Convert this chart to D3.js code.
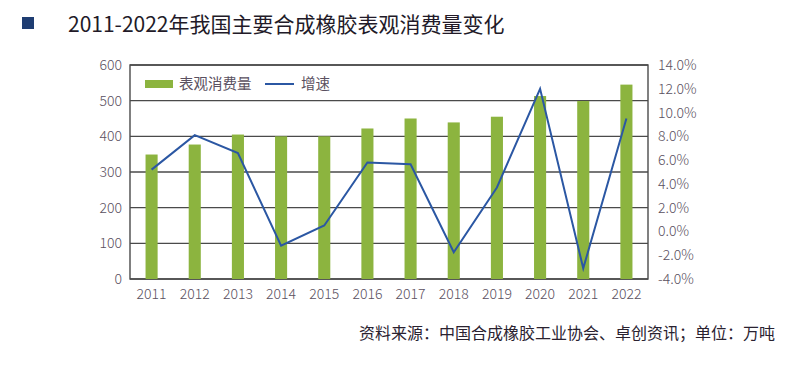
<!DOCTYPE html>
<html><head><meta charset="utf-8">
<script src="https://cdn.jsdelivr.net/npm/d3@7/dist/d3.min.js"></script>
<style>
body{margin:0;background:#fff;}
svg{display:block;font-family:"Noto Sans CJK SC","Noto Sans",sans-serif;}
</style></head>
<body>
<svg id="c" width="802" height="368"></svg>
<script>
const years = ["2011","2012","2013","2014","2015","2016","2017","2018","2019","2020","2021","2022"];
const consumption = [349, 377, 405, 400, 400, 422, 450, 439, 455, 513, 499, 545];
const growth = [5.2, 8.1, 6.6, -1.2, 0.5, 5.8, 5.65, -1.75, 3.7, 12.0, -3.1, 9.5];
const leftTicks = [0,100,200,300,400,500,600];
const rightTicks = [-4,-2,0,2,4,6,8,10,12,14];
const title = "2011-2022年我国主要合成橡胶表观消费量变化";
const source = "资料来源：中国合成橡胶工业协会、卓创资讯；单位：万吨";
const legendNames = ["表观消费量","增速"];

const svg = d3.select("#c");
const L=130, R=648, T=65, B=279;
const x = d3.scaleBand().domain(years).range([L,R]).paddingInner(0.72).paddingOuter(0.36);
const yL = d3.scaleLinear().domain([0,600]).range([B,T]);
const yR = d3.scaleLinear().domain([-4,14]).range([B,T]);
const green="#8cb43f", blue="#2b57a3", grid="#4a4a4a", txt="#5a5060";

// title
svg.append("rect").attr("x",22).attr("y",17).attr("width",12).attr("height",12).attr("fill","#1f3d72");
svg.append("text").attr("x",68).attr("y",32).attr("font-size",21).attr("fill","#221a28").text(title);

// gridlines
svg.append("g").selectAll("line").data(leftTicks).join("line")
  .attr("x1",L).attr("x2",R).attr("y1",d=>yL(d)).attr("y2",d=>yL(d))
  .attr("stroke",grid).attr("stroke-width",1.4);
// border
svg.append("rect").attr("x",L).attr("y",T).attr("width",R-L).attr("height",B-T)
  .attr("fill","none").attr("stroke",grid).attr("stroke-width",1.4);

// bars
svg.append("g").selectAll("rect").data(years).join("rect")
  .attr("x",d=>x(d)).attr("width",x.bandwidth())
  .attr("y",(d,i)=>yL(consumption[i])).attr("height",(d,i)=>B-yL(consumption[i]))
  .attr("fill",green);

// line
const line = d3.line().x((d,i)=>x(years[i])+x.bandwidth()/2).y(d=>yR(d));
svg.append("path").datum(growth).attr("d",line).attr("fill","none")
  .attr("stroke",blue).attr("stroke-width",2).attr("stroke-linejoin","miter");

// axes
const axL = svg.append("g").attr("transform",`translate(${L},0)`)
  .call(d3.axisLeft(yL).tickValues(leftTicks).tickSize(0).tickPadding(8));
const axR = svg.append("g").attr("transform",`translate(${R},0)`)
  .call(d3.axisRight(yR).tickValues(rightTicks).tickSize(0).tickPadding(10).tickFormat(d=>d.toFixed(1)+"%"));
const axB = svg.append("g").attr("transform",`translate(0,${B})`)
  .call(d3.axisBottom(x).tickSize(0).tickPadding(10));
[axL,axR,axB].forEach(a=>{
  a.select(".domain").remove();
  a.selectAll("text").attr("font-size",14).attr("fill",txt)
   .attr("font-family","'Noto Sans CJK SC','Noto Sans',sans-serif").attr("font-weight",300);
});

// legend
const lg = svg.append("g");
lg.append("rect").attr("x",145).attr("y",80).attr("width",28).attr("height",8).attr("fill",green);
lg.append("text").attr("x",179).attr("y",89).attr("font-size",14.5).attr("fill",txt).text(legendNames[0]);
lg.append("line").attr("x1",265).attr("x2",294).attr("y1",84).attr("y2",84).attr("stroke",blue).attr("stroke-width",2);
lg.append("text").attr("x",301).attr("y",89).attr("font-size",14.5).attr("fill",txt).text(legendNames[1]);

// source
svg.append("text").attr("x",775).attr("y",339).attr("text-anchor","end")
  .attr("font-size",16).attr("fill","#2a2230").text(source);
</script>
</body></html>
